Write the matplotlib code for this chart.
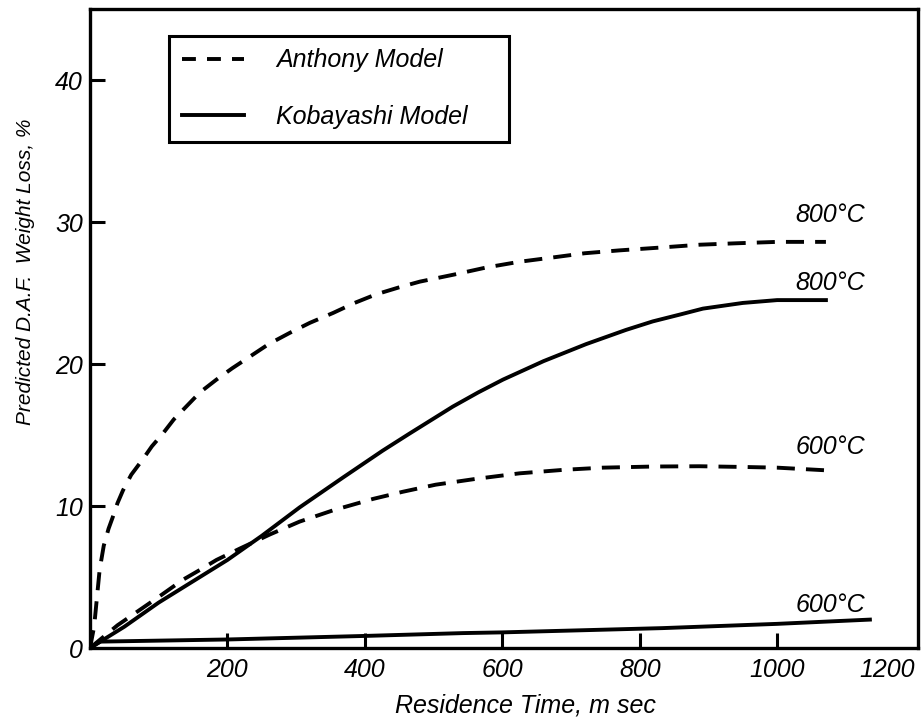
import matplotlib
matplotlib.use('Agg')
import matplotlib.pyplot as plt

plt.rcParams['font.family'] = ['Liberation Sans', 'DejaVu Sans']
plt.rcParams['font.style'] = 'italic'
plt.rcParams['lines.scale_dashes'] = False

# Anthony model (dashed)
t_a800 = [0, 6, 10, 14, 20, 27, 33, 40, 48, 60, 77, 90, 106, 122, 140, 160, 184, 207, 232, 260, 291, 320,
          354, 385, 416, 450, 480, 530, 577, 625, 673, 720, 770, 830, 887, 940, 1000, 1071]
w_a800 = [0, 1.5, 3.5, 5.5, 7.2, 8.4, 9.2, 10.2, 11.1, 12.2, 13.3, 14.2, 15.1, 16.1, 17.0, 18.0, 18.9, 19.7,
          20.5, 21.4, 22.2, 22.9, 23.6, 24.3, 24.9, 25.4, 25.8, 26.3, 26.8, 27.2, 27.5, 27.8, 28.0, 28.2,
          28.4, 28.5, 28.6, 28.6]
t_a600 = [0, 40, 70, 100, 135, 160, 184, 218, 262, 305, 354, 412, 455, 503, 560, 625, 690, 746, 820, 887,
          950, 1000, 1076]
w_a600 = [0, 1.6, 2.6, 3.6, 4.8, 5.5, 6.2, 7.0, 8.0, 8.9, 9.7, 10.5, 11.0, 11.5, 11.9, 12.3, 12.55, 12.7,
          12.78, 12.8, 12.75, 12.7, 12.5]

# Kobayashi model (solid)
t_k800 = [0, 50, 100, 150, 200, 250, 305, 368, 426, 465, 528, 565, 601, 660, 722, 780, 819, 860, 892, 950,
          1000, 1071]
w_k800 = [0, 1.5, 3.2, 4.7, 6.2, 7.9, 9.9, 12.0, 13.9, 15.1, 17.0, 18.0, 18.9, 20.2, 21.4, 22.4, 23.0,
          23.5, 23.9, 24.3, 24.5, 24.5]
t_k600 = [0, 15, 200, 400, 543, 600, 833, 1000, 1135]
w_k600 = [0, 0.45, 0.6, 0.85, 1.05, 1.1, 1.4, 1.7, 2.0]

labels = ['800°C', '800°C', '600°C', '600°C']
label_y = [30.5, 25.7, 14.15, 3.0]

fig = plt.figure(figsize=(9.21, 7.21), dpi=100)
ax = fig.add_axes([90/921, 1-648/721, 828/921, 639/721])

lw = 2.8
dash = (13, 8)
ax.plot(t_a800, w_a800, color='black', lw=lw, dashes=dash)
ax.plot(t_a600, w_a600, color='black', lw=lw, dashes=dash)
ax.plot(t_k800, w_k800, color='black', lw=lw)
ax.plot(t_k600, w_k600, color='black', lw=lw)

for lab, y in zip(labels, label_y):
    ax.text(1128, y, lab, fontsize=18, ha='right', va='center')

ax.set_xlim(0, 1205)
ax.set_ylim(0, 45)
ax.set_xticks([200, 400, 600, 800, 1000, 1200])
ax.set_yticks([0, 10, 20, 30, 40])
ax.tick_params(direction='in', length=11, width=2.2, labelsize=18, pad=5)
ax.tick_params(axis='x', pad=7)
ax.xaxis.get_major_ticks()[-1].tick1line.set_visible(False)
ax.yaxis.get_major_ticks()[0].tick1line.set_visible(False)
ax.get_xticklabels()[-1].set_ha('right')
for s in ax.spines.values():
    s.set_linewidth(2.4)

# legend
h1, = ax.plot([], [], color='black', lw=lw, dashes=(10, 8))
h2, = ax.plot([], [], color='black', lw=lw)
leg = ax.legend([h1, h2], ['Anthony Model', 'Kobayashi Model'],
                loc='upper left', bbox_to_anchor=(79/828, (648-156)/639, 340/828, 120/639),
                mode='expand', fontsize=18, fancybox=False, framealpha=1,
                edgecolor='black', borderpad=0.5, labelspacing=1.3,
                handlelength=2.5, handletextpad=1.3, borderaxespad=0)
leg.get_frame().set_linewidth(2.2)

fig.text(525/921, 1-713/721, 'Residence Time, m sec', fontsize=18, ha='center', va='baseline')
fig.text(26/921, 1-272/721, 'Predicted D.A.F.  Weight Loss, %', fontsize=15,
         rotation=90, ha='center', va='center')

plt.savefig('out.png', dpi=100)
